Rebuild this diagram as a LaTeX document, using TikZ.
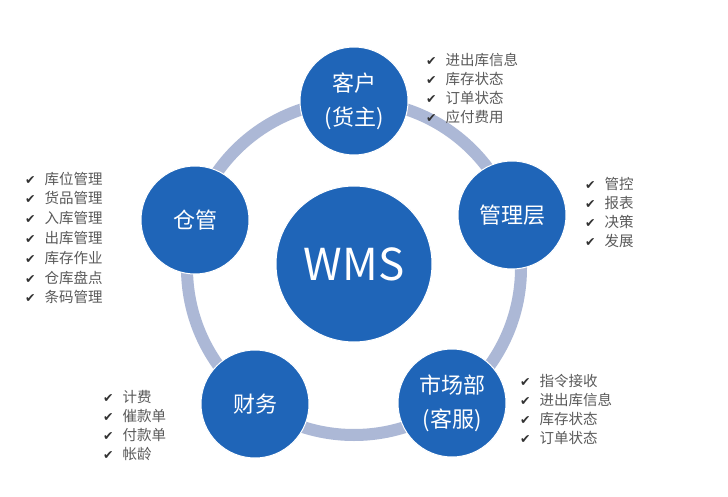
\documentclass[tikz,border=0pt]{standalone}
\usepackage{fontspec}
\setmainfont{Noto Sans CJK SC}
\newfontfamily\symfont{DejaVu Sans}
\definecolor{hubblue}{RGB}{31,101,184}
\definecolor{ringgray}{RGB}{172,184,214}
\definecolor{listgray}{RGB}{90,90,90}
\definecolor{checkgray}{RGB}{50,50,50}
\newcommand\ck{{\symfont\fontsize{12.5}{12.5}\selectfont\color{checkgray}✔}\hspace{9pt}}
\tikzset{
  ringline/.style={draw=ringgray, line width=12pt},
  hub/.style={circle, fill=hubblue, draw=white, line width=1pt, inner sep=0pt,
    minimum size=156pt, text=white, font=\fontsize{44}{48}\selectfont},
  sat/.style={circle, fill=hubblue, draw=white, line width=1pt, inner sep=0pt,
    minimum size=108pt, text=white, align=center, font=\fontsize{22}{34}\selectfont},
  itemlist/.style={anchor=west, inner sep=0pt, align=left, text=listgray,
    font=\fontsize{14.5}{19}\selectfont}
}
\begin{document}
\begin{tikzpicture}[x=1pt,y=-1pt]
\useasboundingbox (0,0) rectangle (728,497);
\fill[white] (0,0) rectangle (728,497);
\draw[ringline] (354,268) circle[radius=167pt];
\node[hub] (wms) at (354,264) {WMS};
\node[sat] (cust) at (354,101) {客户\\(货主)};
\node[sat] (mgmt) at (512,215) {管理层};
\node[sat] (mkt) at (452,403) {市场部\\(客服)};
\node[sat] (fin) at (255,404) {财务};
\node[sat] (wh) at (195,220) {仓管};
\node[itemlist] (custlist) at (426,88) {\ck 进出库信息\\\ck 库存状态\\\ck 订单状态\\\ck 应付费用};
\node[itemlist, font=\fontsize{14.5}{19.8}\selectfont] (whlist) at (25,238) {\ck 库位管理\\\ck 货品管理\\\ck 入库管理\\\ck 出库管理\\\ck 库存作业\\\ck 仓库盘点\\\ck 条码管理};
\node[itemlist] (mgmtlist) at (585,212) {\ck 管控\\\ck 报表\\\ck 决策\\\ck 发展};
\node[itemlist] (finlist) at (103,426) {\ck 计费\\\ck 催款单\\\ck 付款单\\\ck 帐龄};
\node[itemlist] (mktlist) at (520,409) {\ck 指令接收\\\ck 进出库信息\\\ck 库存状态\\\ck 订单状态};
\end{tikzpicture}
\end{document}
